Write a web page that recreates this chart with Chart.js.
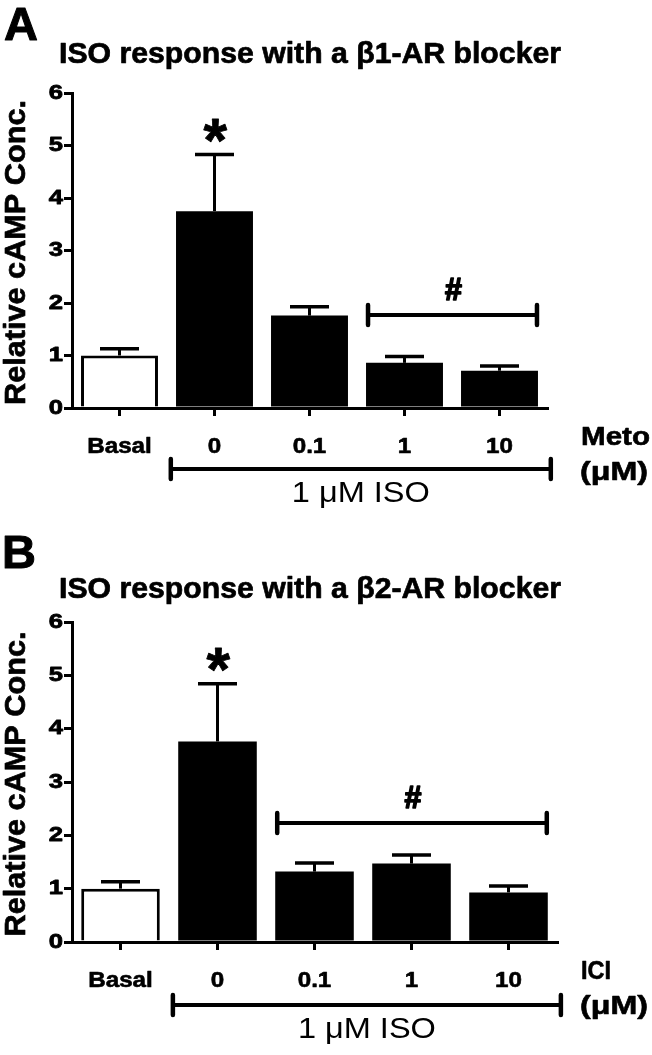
<!DOCTYPE html>
<html>
<head>
<meta charset="utf-8">
<script src="https://cdn.jsdelivr.net/npm/chart.js@4/dist/chart.umd.min.js"></script>
<style>
html,body{margin:0;padding:0;background:#fff;}
canvas{display:block;}
</style>
</head>
<body>
<canvas id="cA" width="652" height="528"></canvas>
<canvas id="cB" width="652" height="527"></canvas>
<script>
// ---------- data ----------
const categories = ['Basal', '0', '0.1', '1', '10'];
const metoMeans  = [1.00, 3.75, 1.76, 0.86, 0.71];
const metoErrors = [0.13, 1.08, 0.17, 0.12, 0.09];
const iciMeans   = [1.00, 3.76, 1.32, 1.47, 0.93];
const iciErrors  = [0.13, 1.08, 0.16, 0.16, 0.12];
const yTickMin = 0, yTickMax = 6, yTickStep = 1;
const barFill = ['#ffffff', '#000000', '#000000', '#000000', '#000000'];
const titleA = 'ISO response with a \u03b21-AR blocker';
const titleB = 'ISO response with a \u03b22-AR blocker';
const yLabel = 'Relative cAMP Conc.';
const drugA = 'Meto', drugB = 'ICI', unitLabel = '(\u03bcM)';
const isoLabel = '1 \u03bcM ISO';
const sigStarIndex = 1;            // bar marked with *
const sigHashA = [3, 4], sigHashB = [2, 4]; // bars under # bracket
const hashLevelA = 1.77, hashLevelB = 2.23;  // y value of # bracket

const FONT = "'Liberation Sans', Arial, Helvetica, sans-serif";
Chart.defaults.font.family = FONT;
Chart.defaults.color = '#000';

function drawText(ctx, str, x, y, o) {
  ctx.save();
  ctx.font = o.font;
  ctx.fillStyle = '#000';
  ctx.strokeStyle = '#000';
  ctx.textBaseline = 'alphabetic';
  ctx.textAlign = 'left';
  const w = ctx.measureText(str).width;
  const sx = o.width ? o.width / w : 1;
  ctx.translate(x, y);
  if (o.rotate) ctx.rotate(o.rotate);
  ctx.scale(sx, 1);
  const dx = o.align === 'center' ? -w / 2 : (o.align === 'right' ? -w : 0);
  ctx.fillText(str, dx, 0);
  if (o.heavy) { ctx.lineWidth = o.heavy; ctx.lineJoin = 'round'; ctx.strokeText(str, dx, 0); }
  ctx.restore();
}
// glyph fitted to an ink box height, centred at (cx, cy)
function drawGlyph(ctx, str, cx, cy, h, heavy) {
  ctx.save();
  ctx.font = 'bold 100px ' + FONT;
  let m = ctx.measureText(str);
  const inkH = m.actualBoundingBoxAscent + m.actualBoundingBoxDescent;
  const size = 100 * h / inkH;
  ctx.font = 'bold ' + size + 'px ' + FONT;
  m = ctx.measureText(str);
  ctx.textAlign = 'left';
  ctx.textBaseline = 'alphabetic';
  ctx.fillStyle = '#000';
  ctx.strokeStyle = '#000';
  const left = -m.actualBoundingBoxLeft, right = m.actualBoundingBoxRight;
  const x = cx - (left + right) / 2;
  const y = cy + (m.actualBoundingBoxAscent - m.actualBoundingBoxDescent) / 2;
  ctx.fillText(str, x, y);
  if (heavy) { ctx.lineWidth = heavy; ctx.lineJoin = 'round'; ctx.strokeText(str, x, y); }
  ctx.restore();
}
function bracket(ctx, x1, x2, y, half) {
  ctx.save();
  ctx.strokeStyle = '#000';
  ctx.lineWidth = 4;
  ctx.lineCap = 'butt';
  ctx.beginPath(); ctx.moveTo(x1, y); ctx.lineTo(x2, y); ctx.stroke();
  ctx.lineWidth = 4.5;
  ctx.lineCap = 'round';
  ctx.beginPath();
  ctx.moveTo(x1, y - half); ctx.lineTo(x1, y + half);
  ctx.moveTo(x2, y - half); ctx.lineTo(x2, y + half);
  ctx.stroke();
  ctx.restore();
}

// widen the axis tick labels horizontally (reference type is stretched)
const tickStretch = {
  id: 'tickStretch',
  beforeDraw(chart) {
    const factors = {x: 1.1, y: 1.28};
    Object.keys(factors).forEach(k => {
      const s = chart.scales[k];
      if (!s || s._stretched) return;
      const orig = s.drawLabels.bind(s);
      const sx = factors[k];
      s.drawLabels = function (area) {
        const ctx = this.ctx;
        const f = CanvasRenderingContext2D.prototype.fillText;
        const g = CanvasRenderingContext2D.prototype.strokeText;
        ctx.fillText = function (t, x, y) {
          this.save(); this.translate(x, y); this.scale(sx, 1); f.call(this, t, 0, 0); this.restore();
        };
        ctx.strokeText = function (t, x, y) {
          this.save(); this.translate(x, y); this.scale(sx, 1); this.lineJoin = 'round'; g.call(this, t, 0, 0); this.restore();
        };
        try { orig(area); } finally { delete ctx.fillText; delete ctx.strokeText; }
      };
      s._stretched = true;
    });
  }
};

function makePanel(id, means, errors, cfg) {
  const annot = {
    id: 'annot_' + id,
    afterDatasetsDraw(chart) {
      const ctx = chart.ctx;
      const xs = chart.scales.x, ys = chart.scales.y;
      const meta = chart.getDatasetMeta(0);
      // error bars (upper only)
      ctx.save();
      ctx.strokeStyle = '#000';
      meta.data.forEach((bar, i) => {
        const yt = ys.getPixelForValue(means[i] + errors[i]);
        ctx.lineWidth = 3;
        ctx.beginPath(); ctx.moveTo(bar.x, bar.y); ctx.lineTo(bar.x, yt); ctx.stroke();
        ctx.lineWidth = 3.5;
        ctx.beginPath(); ctx.moveTo(bar.x - 19.5, yt); ctx.lineTo(bar.x + 19.5, yt); ctx.stroke();
      });
      ctx.restore();
      const ca = chart.chartArea;
      const catW = xs.getPixelForValue(1) - xs.getPixelForValue(0);
      // star
      const sb = meta.data[sigStarIndex];
      const ySt = ys.getPixelForValue(means[sigStarIndex] + errors[sigStarIndex]);
      drawGlyph(ctx, '*', sb.x + 1, ySt - 24, 23, 0.8);
      // hash bracket
      const b1 = meta.data[cfg.hash[0]], b2 = meta.data[cfg.hash[1]];
      const hx1 = b1.x - b1.width / 2 + 2, hx2 = b2.x + b2.width / 2 - 1;
      const hy = ys.getPixelForValue(cfg.hashLevel);
      bracket(ctx, hx1, hx2, hy, 10);
      drawGlyph(ctx, '#', (hx1 + hx2) / 2 + 1, hy - 26, 21, 1.6);
      // ISO bracket
      const p0 = meta.data[1].x - 0.46 * catW, p1 = meta.data[4].x + 0.54 * catW;
      const by = ca.bottom + cfg.isoOffset;
      bracket(ctx, p0, p1, by, 10);
      drawText(ctx, isoLabel, (p0 + p1) / 2, by + 33, {font: '29px ' + FONT, align: 'center', width: 138});
      // drug / unit labels
      drawText(ctx, cfg.drug, 581, ca.bottom + 37, {font: 'bold 25px ' + FONT, width: cfg.drugW, heavy: 0.6});
      drawText(ctx, unitLabel, 580, ca.bottom + 72, {font: 'bold 25px ' + FONT, width: 68, heavy: 0.6});
      // panel letter and title
      drawText(ctx, cfg.letter, cfg.letterX, cfg.letterY, {font: 'bold 47px ' + FONT, heavy: 1});
      drawText(ctx, cfg.title, 59, cfg.titleY, {font: 'bold 30px ' + FONT, width: 502, heavy: 0.7});
      // y axis title
      drawText(ctx, yLabel, 25, (ca.top + ca.bottom) / 2 + 2, {font: 'bold 30px ' + FONT, align: 'center', width: 305, rotate: -Math.PI / 2, heavy: 0.7});
    }
  };
  const axisGrid = {display: true, drawOnChartArea: false, drawTicks: true, tickLength: 8, lineWidth: 3, color: '#000', offset: false};
  return new Chart(document.getElementById(id), {
    type: 'bar',
    data: {
      labels: categories,
      datasets: [{
        data: means,
        backgroundColor: barFill,
        borderColor: '#000',
        borderWidth: barFill.map(c => c === '#ffffff' ? 3 : 0),
        borderSkipped: 'start',
        categoryPercentage: 1.0,
        barPercentage: 0.81
      }]
    },
    options: {
      responsive: false,
      animation: false,
      devicePixelRatio: 1,
      layout: {padding: {left: 0, top: cfg.top, right: cfg.right, bottom: 0}},
      plugins: {legend: {display: false}, title: {display: false}, tooltip: {enabled: false}},
      scales: {
        x: {
          offset: true,
          grid: axisGrid,
          border: {display: true, width: 3, color: '#000'},
          ticks: {color: '#000', font: {size: 22, weight: 'bold'}, padding: 18, maxRotation: 0, autoSkip: false,
                  textStrokeColor: '#000', textStrokeWidth: 0.6},
          afterFit: s => { s.height = cfg.xH; }
        },
        y: {
          min: yTickMin, max: yTickMax,
          grid: axisGrid,
          border: {display: true, width: 3, color: '#000'},
          ticks: {stepSize: yTickStep, color: '#000', font: {size: 20, weight: 'bold'}, padding: 1,
                  textStrokeColor: '#000', textStrokeWidth: 0.8},
          afterFit: s => { s.width = 72; }
        }
      }
    },
    plugins: [tickStretch, annot]
  });
}

makePanel('cA', metoMeans, metoErrors, {
  top: 93, right: 105, xH: 120, hash: sigHashA, hashLevel: hashLevelA, isoOffset: 61,
  drug: drugA, drugW: 69, letter: 'A', letterX: 4, letterY: 40, title: titleA, titleY: 63
});
makePanel('cB', iciMeans, iciErrors, {
  top: 94, right: 95, xH: 113, hash: sigHashB, hashLevel: hashLevelB, isoOffset: 63,
  drug: drugB, drugW: 30, letter: 'B', letterX: 2, letterY: 40, title: titleB, titleY: 70
});
</script>
</body>
</html>
